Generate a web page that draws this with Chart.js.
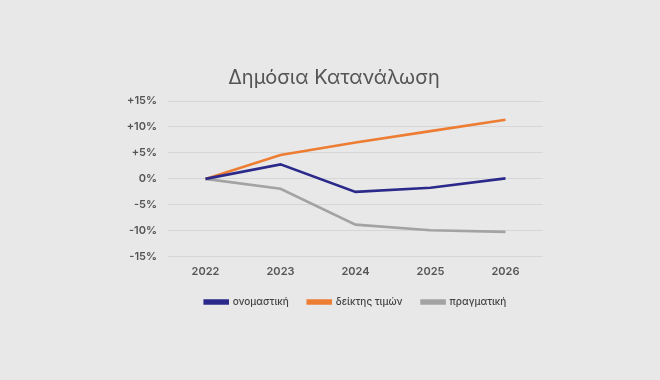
<!DOCTYPE html>
<html>
<head>
<meta charset="utf-8">
<script src="https://cdn.jsdelivr.net/npm/chart.js@4"></script>
<style>
  html, body { margin: 0; padding: 0; background: #e8e8e8; }
  #wrap { width: 660px; height: 380px; }
</style>
</head>
<body>
<div id="wrap"><canvas id="chart"></canvas></div>
<script>
// data
const years = ['2022', '2023', '2024', '2025', '2026'];
const nominal = [0, 2.8, -2.5, -1.7, 0.1];
const priceIndex = [0, 4.6, 7.0, 9.2, 11.4];
const real = [0, -1.9, -8.8, -9.9, -10.2];
const seriesNames = ['ονομαστική', 'δείκτης τιμών', 'πραγματική'];

const ctx = document.getElementById('chart').getContext('2d');

new Chart(ctx, {
    type: 'line',
    data: {
        labels: years,
        datasets: [
            { label: seriesNames[0], data: nominal, borderColor: '#2b2a8a', backgroundColor: '#2b2a8a' },
            { label: seriesNames[1], data: priceIndex, borderColor: '#ee7d34', backgroundColor: '#ee7d34' },
            { label: seriesNames[2], data: real, borderColor: '#a3a3a3', backgroundColor: '#a3a3a3' },
        ],
    },
    options: {
        responsive: true,
        maintainAspectRatio: false,
        animation: false,
        elements: {
            line: { borderWidth: 2.6, tension: 0 },
            point: { radius: 0 },
        },
        layout: {
            padding: { left: 125, right: 117, top: 66, bottom: 63 },
        },
        plugins: {
            title: {
                display: true,
                text: 'Δημόσια Κατανάλωση',
                color: '#555555',
                font: { family: 'Inter', size: 20, weight: 'normal' },
                padding: { top: 0, bottom: 11 },
            },
            legend: {
                position: 'bottom',
                fullSize: false,
                labels: {
                    boxWidth: 23,
                    boxHeight: 3,
                    color: '#444444',
                    font: { family: 'Inter', size: 10, weight: '500' },
                    padding: 19,
                },
            },
            tooltip: { enabled: false },
        },
        scales: {
            x: {
                offset: true,
                grid: { display: false },
                border: { display: false },
                ticks: {
                    color: '#555555',
                    font: { family: 'Inter', size: 11, weight: '600' },
                    padding: 0,
                },
            },
            y: {
                min: -15,
                max: 15,
                afterFit: (axis) => { axis.width = 43; },
                grid: { color: '#d6d6d6', drawTicks: false },
                border: { display: false },
                ticks: {
                    stepSize: 5,
                    color: '#555555',
                    padding: 11,
                    font: { family: 'Inter', size: 11, weight: '600' },
                    callback: (v) => (v > 0 ? '+' + v + '%' : v + '%'),
                },
            },
        },
    },
});
</script>
</body>
</html>
